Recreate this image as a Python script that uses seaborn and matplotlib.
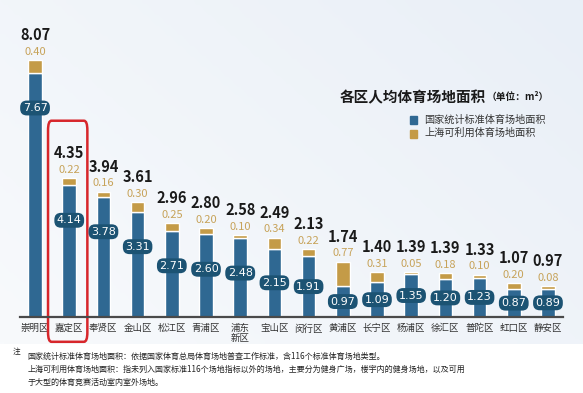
import numpy as np
import pandas as pd
import matplotlib
matplotlib.use('Agg')
import matplotlib.pyplot as plt
import seaborn as sns
from matplotlib.patches import FancyBboxPatch
from matplotlib.colors import LinearSegmentedColormap

districts = ['崇明区', '嘉定区', '奉贤区', '金山区', '松江区', '青浦区', '浦东\n新区', '宝山区',
             '闵行区', '黄浦区', '长宁区', '杨浦区', '徐汇区', '普陀区', '虹口区', '静安区']
national = [7.67, 4.14, 3.78, 3.31, 2.71, 2.60, 2.48, 2.15, 1.91, 0.97, 1.09, 1.35, 1.20, 1.23, 0.87, 0.89]
shanghai = [0.40, 0.22, 0.16, 0.30, 0.25, 0.20, 0.10, 0.34, 0.22, 0.77, 0.31, 0.05, 0.18, 0.10, 0.20, 0.08]
totals = [8.07, 4.35, 3.94, 3.61, 2.96, 2.80, 2.58, 2.49, 2.13, 1.74, 1.40, 1.39, 1.39, 1.33, 1.07, 0.97]
series_names = ['国家统计标准体育场地面积', '上海可利用体育场地面积']
highlight = '嘉定区'

sns.set_theme(style='white')
plt.rcParams['font.family'] = ['Noto Sans CJK SC', 'DejaVu Sans']

BLUE = '#2f6892'
GOLD = '#c49b47'
PILL = '#1c5373'

df = pd.DataFrame({'district': districts, 'national': national, 'shanghai': shanghai})
df['top'] = df['national'] + df['shanghai']

fig = plt.figure(figsize=(5.83, 3.93), dpi=100)
fig.patch.set_facecolor('white')

# soft background gradient
bg = fig.add_axes([0, 0.125, 1, 0.875], zorder=-5)
gx = np.linspace(0, 1, 200)
gy = np.linspace(0, 1, 100)
G = np.clip(0.6 * gx[None, :] + 0.4 * (1 - gy[:, None]), 0, 1)
cmap = LinearSegmentedColormap.from_list('bg', ['#f8fafc', '#e9eff7'])
bg.imshow(G, cmap=cmap, aspect='auto', extent=[0, 1, 0, 1])
bg.axis('off')

ax = fig.add_axes([0.0343, 0.1934, 0.9314, 0.705])
ax.patch.set_alpha(0)

sns.barplot(data=df, x='district', y='national', color=BLUE, width=0.4, ax=ax,
            saturation=1, order=districts)
sns.barplot(data=df, x='district', y='shanghai', color=GOLD, width=0.4, ax=ax,
            saturation=1, order=districts, bottom=df['national'])

ax.set_xlim(-0.44, 15.44)
ax.set_ylim(0, 8.71)
for s in ['top', 'right', 'left']:
    ax.spines[s].set_visible(False)
ax.spines['bottom'].set_color('#4a4a4a')
ax.spines['bottom'].set_linewidth(1.6)
ax.set_yticks([])
ax.set_xlabel('')
ax.set_ylabel('')
ax.tick_params(axis='x', length=0, pad=5, labelsize=6.8, labelcolor='#333333')
for t in ax.get_xticklabels():
    t.set_linespacing(1.1)
    t.set_verticalalignment('top')

for i, (n, s, tot, top) in enumerate(zip(national, shanghai, totals, df['top'])):
    ax.annotate(f'{s:.2f}', (i, top), xytext=(0, 6), textcoords='offset points',
                ha='center', va='center', fontsize=8, color='#c7a35a')
    ax.annotate(f'{tot:.2f}', (i, top), xytext=(0, 18), textcoords='offset points',
                ha='center', va='center', fontsize=10.5, fontweight='bold', color='#1a1a1a')
    py = max(n - 1.1, n * 0.5)
    ax.text(i, py, f'{n:.2f}', ha='center', va='center', fontsize=8, color='white',
            family='DejaVu Sans',
            bbox=dict(boxstyle='round,pad=0.22,rounding_size=0.6', fc=PILL, ec='none'))

# highlight box
hi = districts.index(highlight)
box = FancyBboxPatch((hi - 0.62, -0.78), 1.15, totals[hi] + 2.6,
                     boxstyle='round,pad=0,rounding_size=0.1', fill=False,
                     ec='#d7262b', lw=1.8, clip_on=False, mutation_aspect=3)
ax.add_patch(box)

# title and legend
fig.text(0.583, 0.752, '各区人均体育场地面积', fontsize=10.5, fontweight='bold',
         color='#1a1a1a', ha='left', va='center')
fig.text(0.835, 0.752, '（单位：m²）', fontsize=7, fontweight='bold',
         color='#1a1a1a', ha='left', va='center')
for k, (name, c) in enumerate(zip(series_names, [BLUE, GOLD])):
    yy = 0.695 - k * 0.034
    fig.patches.append(plt.Rectangle((0.703, yy - 0.011), 0.012, 0.02, color=c,
                                     transform=fig.transFigure, figure=fig))
    fig.text(0.728, yy, name, fontsize=7.3, color='#333333', ha='left', va='center')

# footnote
fig.text(0.022, 0.104, '注', fontsize=5.5, color='#222222', ha='left', va='center')
notes = ['国家统计标准体育场地面积：依据国家体育总局体育场地普查工作标准，含116个标准体育场地类型。',
         '上海可利用体育场地面积：指未列入国家标准116个场地指标以外的场地，主要分为健身广场，楼宇内的健身场地，以及可用',
         '于大型的体育竞赛活动室内室外场地。']
for k, line in enumerate(notes):
    fig.text(0.047, 0.094 - k * 0.034, line, fontsize=5.8, color='#222222', ha='left', va='center')

fig.savefig('out.png', dpi=100)
